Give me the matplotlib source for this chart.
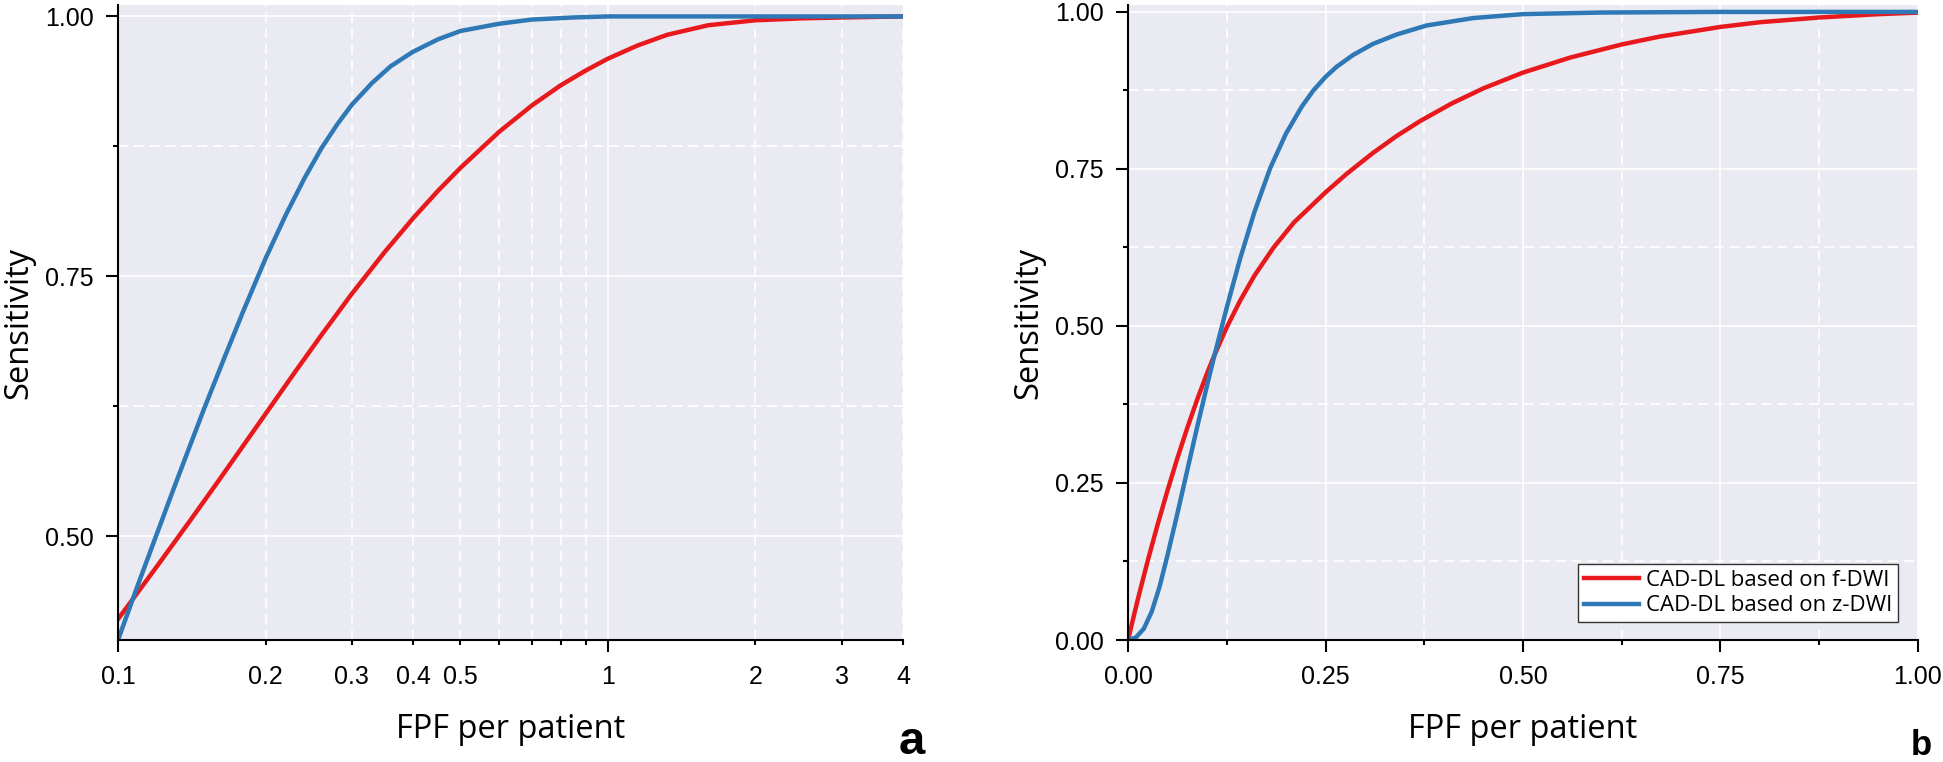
import matplotlib
matplotlib.use('Agg')
import matplotlib.pyplot as plt
from matplotlib.ticker import FixedLocator, FixedFormatter, NullFormatter

# ---------------- data ----------------
# Panel a (log x axis)
a_red_x = [0.1, 0.12, 0.14, 0.16, 0.18, 0.2, 0.23, 0.26, 0.3, 0.35, 0.4, 0.45, 0.5, 0.6, 0.7, 0.8,
           0.9, 1.0, 1.15, 1.32, 1.6, 2.0, 2.5, 3.0, 4.0]
a_red_y = [0.420, 0.4707, 0.5142, 0.5525, 0.5868, 0.6175, 0.6582, 0.6933, 0.7331, 0.7732, 0.8057,
           0.8323, 0.8543, 0.8891, 0.9145, 0.9336, 0.9479, 0.9594, 0.9721, 0.9823, 0.9915, 0.9963,
           0.9982, 0.999, 1.0]
a_blue_x = [0.1, 0.11, 0.12, 0.13, 0.14, 0.15, 0.165, 0.18, 0.2, 0.22, 0.24, 0.26, 0.28, 0.3, 0.33,
            0.36, 0.4, 0.45, 0.5, 0.6, 0.7, 0.85, 1.0, 2.0, 4.0]
a_blue_y = [0.400, 0.454, 0.502, 0.546, 0.586, 0.623, 0.672, 0.716, 0.767, 0.809, 0.844, 0.873, 0.896,
            0.915, 0.936, 0.952, 0.966, 0.978, 0.986, 0.993, 0.997, 0.999, 1.0, 1.0, 1.0]

# Panel b (linear x axis)
b_red_x = [0, 0.0125, 0.025, 0.0375, 0.05, 0.0625, 0.075, 0.0875, 0.1, 0.109, 0.125, 0.142, 0.16,
           0.184, 0.21, 0.25, 0.277, 0.31, 0.34, 0.37, 0.41, 0.45, 0.5, 0.56, 0.625, 0.673, 0.75,
           0.8, 0.875, 0.95, 1.0]
b_red_y = [0, 0.065, 0.1263, 0.1838, 0.2381, 0.2894, 0.3375, 0.3825, 0.4244, 0.4523, 0.4979, 0.5404,
           0.58, 0.6244, 0.6647, 0.7127, 0.7424, 0.7754, 0.8024, 0.8264, 0.8544, 0.8784, 0.9034,
           0.9274, 0.9482, 0.9607, 0.9761, 0.9836, 0.9911, 0.9964, 0.9989]
b_blue_x = [0, 0.01, 0.02, 0.03, 0.04, 0.05, 0.0625, 0.075, 0.0875, 0.1, 0.109, 0.125, 0.142, 0.16,
            0.18, 0.2, 0.22, 0.2346, 0.25, 0.264, 0.285, 0.31, 0.34, 0.378, 0.437, 0.5, 0.6, 0.75, 1.0]
b_blue_y = [0, 0.004, 0.018, 0.045, 0.085, 0.135, 0.2013, 0.27, 0.3388, 0.405, 0.4509, 0.5293, 0.6075,
            0.6813, 0.7513, 0.8063, 0.8493, 0.8749, 0.8965, 0.9126, 0.9315, 0.949, 0.964, 0.9784,
            0.9902, 0.9965, 0.999, 1.0, 1.0]

series_labels = ['CAD-DL based on f-DWI', 'CAD-DL based on z-DWI']

a_xmajor = [0.1, 1]
a_xmajor_labels = ['0.1', '1']
a_xminor = [0.2, 0.3, 0.4, 0.5, 0.6, 0.7, 0.8, 0.9, 2, 3, 4]
a_xminor_labels = ['0.2', '0.3', '0.4', '0.5', '', '', '', '', '2', '3', '4']
a_ymajor = [0.50, 0.75, 1.00]
a_ymajor_labels = ['0.50', '0.75', '1.00']
a_yminor = [0.625, 0.875]

b_major = [0.0, 0.25, 0.5, 0.75, 1.0]
b_major_labels = ['0.00', '0.25', '0.50', '0.75', '1.00']
b_minor = [0.125, 0.375, 0.625, 0.875]

RED = '#E8191C'
BLUE = '#2E78B6'
BG = '#EAEAF2'

plt.rcParams['font.family'] = ['Liberation Sans', 'DejaVu Sans']

W, H = 1943, 762
fig = plt.figure(figsize=(W / 100, H / 100), dpi=100)
axL = fig.add_axes([118 / W, 1 - 640 / H, 785 / W, 635 / H])
axR = fig.add_axes([1128 / W, 1 - 640 / H, 790 / W, 635 / H])

DASH = (0, (6, 3.5))


def style(ax):
    ax.set_facecolor(BG)
    for s in ['top', 'right']:
        ax.spines[s].set_visible(False)
    for s in ['left', 'bottom']:
        ax.spines[s].set_color('black')
        ax.spines[s].set_linewidth(1.5)
    ax.set_axisbelow(True)
    ax.grid(which='major', color='white', lw=1.2, ls='-')
    ax.grid(which='minor', color='white', lw=1.2, ls=DASH)
    ax.tick_params(which='major', length=8.6, width=1.5, color='black', labelsize=18)
    ax.tick_params(which='minor', length=3.6, width=1.5, color='black', labelsize=18)
    ax.tick_params(axis='y', which='both', pad=8.6)
    ax.set_xlabel('FPF per patient', fontsize=23.5, family=['Open Sans', 'DejaVu Sans'], labelpad=17)
    ax.set_ylabel('Sensitivity', fontsize=23.5, family=['Open Sans', 'DejaVu Sans'], labelpad=7)


LW = 3.2

# ---- panel a ----
axL.plot(a_red_x, a_red_y, color=RED, lw=LW, solid_joinstyle='round', label=series_labels[0])
axL.plot(a_blue_x, a_blue_y, color=BLUE, lw=LW, solid_joinstyle='round', label=series_labels[1])
axL.set_xscale('log')
axL.set_xlim(0.1, 4)
axL.set_ylim(0.40, 1.011)
axL.xaxis.set_major_locator(FixedLocator(a_xmajor))
axL.xaxis.set_major_formatter(FixedFormatter(a_xmajor_labels))
axL.xaxis.set_minor_locator(FixedLocator(a_xminor))
axL.xaxis.set_minor_formatter(FixedFormatter(a_xminor_labels))
axL.yaxis.set_major_locator(FixedLocator(a_ymajor))
axL.yaxis.set_major_formatter(FixedFormatter(a_ymajor_labels))
axL.yaxis.set_minor_locator(FixedLocator(a_yminor))
axL.yaxis.set_minor_formatter(NullFormatter())
style(axL)
axL.tick_params(axis='x', which='major', pad=9.4)
axL.tick_params(axis='x', which='minor', pad=14.4)

# ---- panel b ----
axR.plot(b_red_x, b_red_y, color=RED, lw=LW, solid_joinstyle='round', label=series_labels[0])
axR.plot(b_blue_x, b_blue_y, color=BLUE, lw=LW, solid_joinstyle='round', label=series_labels[1])
axR.set_xlim(0, 1)
axR.set_ylim(0, 1.011)
for axis in (axR.xaxis, axR.yaxis):
    axis.set_major_locator(FixedLocator(b_major))
    axis.set_major_formatter(FixedFormatter(b_major_labels))
    axis.set_minor_locator(FixedLocator(b_minor))
    axis.set_minor_formatter(NullFormatter())
style(axR)
axR.tick_params(axis='x', which='major', pad=9.4)

leg = axR.legend(loc='lower right', bbox_to_anchor=(0.9747, 0.0283), borderaxespad=0,
                 fancybox=False, framealpha=1, edgecolor='#333333', facecolor='white',
                 prop={'family': ['Open Sans', 'DejaVu Sans'], 'size': 16},
                 handlelength=2.5, handletextpad=0.3, labelspacing=0.2, borderpad=0.25)
leg.get_frame().set_linewidth(1.0)
for line in leg.get_lines():
    line.set_linewidth(LW)

fig.text(925 / W, 1 - 754 / H, 'a', ha='right', va='baseline', fontsize=34, fontweight='bold')
fig.text(1932 / W, 1 - 755 / H, 'b', ha='right', va='baseline', fontsize=25, fontweight='bold')

fig.savefig('out.png', dpi=100)
